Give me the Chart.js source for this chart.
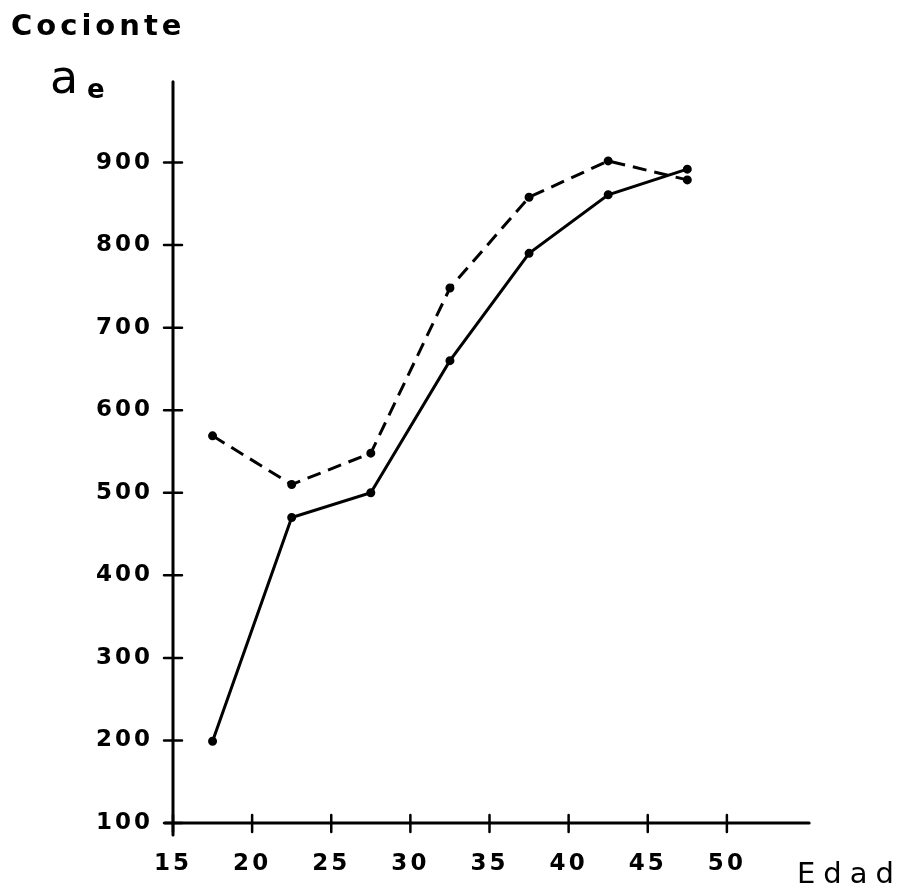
<!DOCTYPE html>
<html lang="es">
  <head>
    <meta charset="UTF-8" />
    <title>Cociente por edad</title>
    <script src="https://cdn.jsdelivr.net/npm/chart.js"></script>
    <style>
      html, body { margin: 0; padding: 0; background: #fff; }
      #wrap { position: relative; width: 900px; height: 888px; }
      .lbl { position: absolute; font-family: "DejaVu Sans", sans-serif; color: #000; line-height: 1; white-space: nowrap; }
    </style>
  </head>
  <body>
    <div id="wrap">
      <canvas id="chart" width="900" height="888"></canvas>
      <div class="lbl" style="left:11px;top:11px;font-size:29px;font-weight:bold;letter-spacing:4px;">Cocionte</div>
      <div class="lbl" style="left:50px;top:54px;font-size:46px;">a</div>
      <div class="lbl" style="left:87px;top:76px;font-size:26px;font-weight:bold;">e</div>
      <div class="lbl" style="left:797px;top:859px;font-size:29px;letter-spacing:8px;">Edad</div>
    </div>
    <script>
      const edad = [17.5, 22.5, 27.5, 32.5, 37.5, 42.5, 47.5];
      const serieContinua = [199, 470, 500, 660, 790, 861, 892];
      const serieDiscontinua = [569, 510, 548, 748, 858, 902, 879];
      const ticksX = [15, 20, 25, 30, 35, 40, 45, 50];
      const ticksY = [100, 200, 300, 400, 500, 600, 700, 800, 900];

      const font = { family: "DejaVu Sans, sans-serif", size: 23, weight: "bold" };

      // ejes dibujados a mano, con marcas que cruzan la linea
      const ejes = {
        id: "ejes",
        beforeDraw(chart) {
          chart.ctx.letterSpacing = "3px";
        },
        afterDraw(chart) {
          const ctx = chart.ctx;
          const x = chart.scales.x;
          const y = chart.scales.y;
          const x0 = x.getPixelForValue(15);
          const y0 = y.getPixelForValue(100);
          ctx.save();
          ctx.strokeStyle = "#000";
          ctx.lineWidth = 3;
          ctx.lineCap = "round";
          ctx.beginPath();
          ctx.moveTo(x0, y.getPixelForValue(998));
          ctx.lineTo(x0, y0 + 12);
          ctx.moveTo(x0 - 8, y0);
          ctx.lineTo(x.getPixelForValue(55.2), y0);
          ctx.stroke();
          ctx.lineWidth = 2.5;
          ctx.beginPath();
          ticksY.forEach((v) => {
            const py = y.getPixelForValue(v);
            ctx.moveTo(x0 - 9, py);
            ctx.lineTo(x0 + 9, py);
          });
          ticksX.forEach((v) => {
            const px = x.getPixelForValue(v);
            ctx.moveTo(px, y0 - 8);
            ctx.lineTo(px, y0 + 9);
          });
          ctx.stroke();
          ctx.restore();
        },
      };

      new Chart(document.getElementById("chart"), {
        type: "scatter",
        data: {
          datasets: [
            {
              data: edad.map((e, i) => ({ x: e, y: serieContinua[i] })),
              showLine: true,
              borderColor: "#000",
              backgroundColor: "#000",
              borderWidth: 3,
              pointRadius: 3,
            },
            {
              data: edad.map((e, i) => ({ x: e, y: serieDiscontinua[i] })),
              showLine: true,
              borderColor: "#000",
              backgroundColor: "#000",
              borderWidth: 3,
              borderDash: [14, 8],
              pointRadius: 3,
            },
          ],
        },
        options: {
          responsive: false,
          animation: false,
          layout: { padding: { top: 80, right: 94, left: 0, bottom: 0 } },
          plugins: { legend: { display: false }, tooltip: { enabled: false } },
          scales: {
            x: {
              type: "linear",
              min: 15,
              max: 55,
              afterBuildTicks: (s) => { s.ticks = ticksX.map((v) => ({ value: v })); },
              afterFit: (s) => { s.height = 65; },
              grid: { display: false },
              border: { display: false },
              ticks: { color: "#000", font: font, padding: 19, maxRotation: 0 },
            },
            y: {
              min: 100,
              max: 1000,
              afterBuildTicks: (s) => { s.ticks = ticksY.map((v) => ({ value: v })); },
              afterFit: (s) => { s.width = 173; },
              grid: { display: false },
              border: { display: false },
              ticks: { color: "#000", font: font, padding: 12 },
            },
          },
        },
        plugins: [ejes],
      });
    </script>
  </body>
</html>
